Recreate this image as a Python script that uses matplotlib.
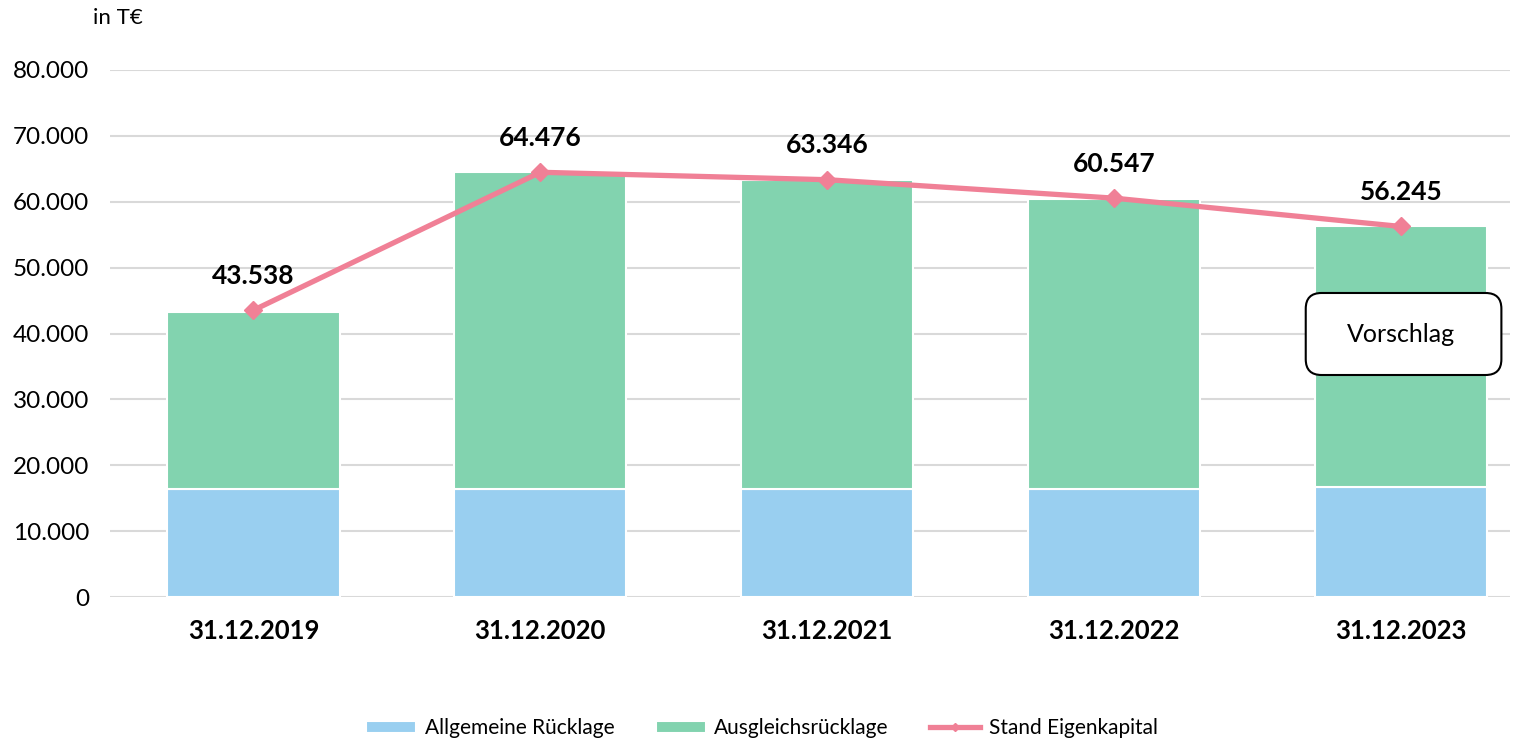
import matplotlib
matplotlib.use("Agg")
import matplotlib.pyplot as plt
from matplotlib.patches import FancyBboxPatch

plt.rcParams['font.family'] = ['Lato', 'DejaVu Sans']

categories = ['31.12.2019', '31.12.2020', '31.12.2021', '31.12.2022', '31.12.2023']
allgemeine = [16400, 16400, 16400, 16400, 16650]
ausgleich = [26800, 48076, 46946, 44047, 39595]
eigenkapital = [43538, 64476, 63346, 60547, 56245]
labels = ['43.538', '64.476', '63.346', '60.547', '56.245']
yticks = [0, 10000, 20000, 30000, 40000, 50000, 60000, 70000, 80000]
ytick_labels = ['0', '10.000', '20.000', '30.000', '40.000', '50.000', '60.000', '70.000', '80.000']

blue = '#99CFF0'
green = '#82D3AF'
pink = '#F08096'

fig = plt.figure(figsize=(15.24, 7.41), dpi=100)
ax = fig.add_axes([110 / 1524, 144 / 741, 1400 / 1524, 527 / 741])

x = range(len(categories))
ax.bar(x, allgemeine, width=0.6, color=blue, edgecolor='white', linewidth=1.5,
       label='Allgemeine Rücklage', zorder=2)
ax.bar(x, ausgleich, width=0.6, bottom=allgemeine, color=green, edgecolor='white',
       linewidth=1.5, label='Ausgleichsrücklage', zorder=2)
ax.plot(x, eigenkapital, color=pink, linewidth=3.8, marker='D', markersize=9,
        label='Stand Eigenkapital', zorder=3)

for i, v in enumerate(eigenkapital):
    ax.annotate(labels[i], (i, v), xytext=(0, 16), textcoords='offset points',
                ha='center', va='bottom', fontsize=19, fontweight='bold')

# rounded box, aspect so the corners look round in pixels
px_per_x = 286.0
px_per_y = 527.0 / 80000
box = FancyBboxPatch((3.668, 33700), 0.682, 12450,
                     boxstyle='round,pad=0,rounding_size=0.055',
                     mutation_aspect=px_per_x / px_per_y, facecolor='white',
                     edgecolor='black', linewidth=1.5, zorder=4)
ax.add_patch(box)
ax.text(4.0, 39900, 'Vorschlag', ha='center', va='center', fontsize=18, zorder=5)

ax.set_ylim(0, 80000)
ax.set_xlim(-0.5, 4.38)
ax.set_yticks(yticks)
ax.set_yticklabels(ytick_labels, fontsize=17.5)
ax.set_xticks(list(x))
ax.set_xticklabels(categories, fontsize=18.5, fontweight='bold')
ax.tick_params(axis='both', length=0)
ax.tick_params(axis='y', pad=15)
ax.tick_params(axis='x', pad=16)
ax.yaxis.grid(True, color='#D9D9D9', linewidth=1.5, zorder=0)
ax.set_axisbelow(True)
for s in ax.spines.values():
    s.set_visible(False)

fig.text(93 / 1524, 1 - 18 / 741, 'in T€', fontsize=16, ha='left', va='center')

handles, names = ax.get_legend_handles_labels()
order = [1, 2, 0]
fig.legend([handles[i] for i in order], [names[i] for i in order],
           loc='center', bbox_to_anchor=(0.5, 1 - 728 / 741), ncol=3, frameon=False,
           fontsize=15, handlelength=2.4, handleheight=0.5, columnspacing=2.0,
           handletextpad=0.4, markerscale=0.5)

fig.savefig('out.png', dpi=100)
